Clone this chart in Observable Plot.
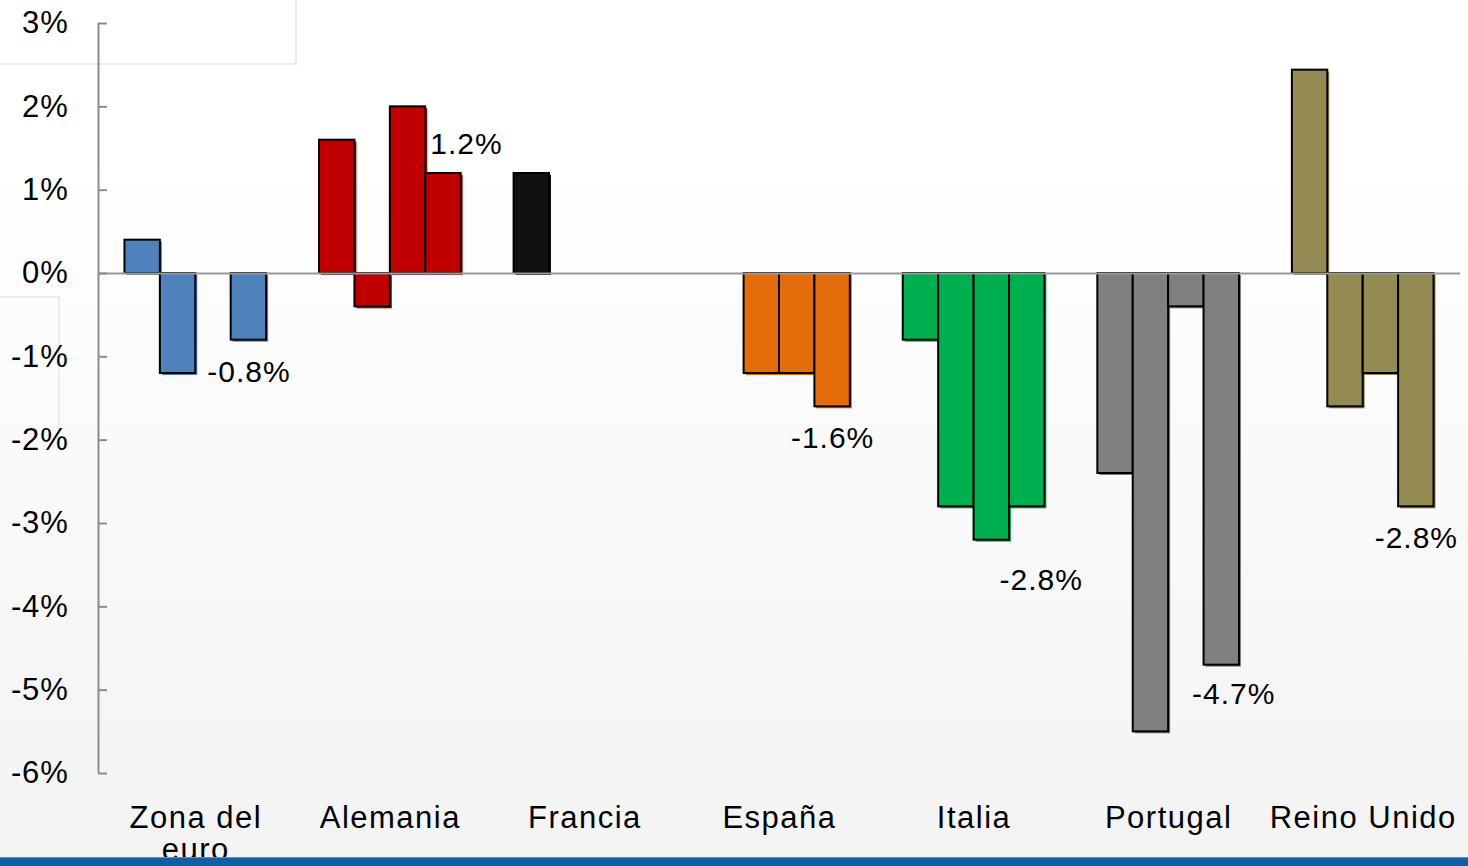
<!DOCTYPE html>
<html>
<head>
<meta charset="utf-8">
<script src="https://cdn.jsdelivr.net/npm/d3@7"></script>
<script src="https://cdn.jsdelivr.net/npm/@observablehq/plot@0.6"></script>
<style>
  html, body { margin: 0; padding: 0; }
  body {
    width: 1468px; height: 866px; overflow: hidden; position: relative;
    background: linear-gradient(to bottom, #ffffff 0%, #ffffff 18%, #f3f3f3 100%);
    font-family: "Liberation Sans", Arial, sans-serif;
  }
  #chart { position: absolute; left: 0; top: 0; }
  #chart g[aria-label="x-axis tick label"] text { letter-spacing: 1.5px; }
  #chart g[aria-label="y-axis tick label"] text { letter-spacing: 0.8px; }
  #chart g[aria-label="text"] text { letter-spacing: 1px; }
  .ghost1 { position: absolute; left: -2px; top: -2px; width: 295px; height: 63px; border: 2px solid #ececec; background: rgba(255,255,255,0.6); }
  .ghost2 { position: absolute; left: -2px; top: 296px; width: 58px; height: 132px; border: 2px solid #ececec; border-bottom: none; }
  .band { position: absolute; left: 0; top: 857px; width: 1468px; height: 9px; background: #125ea6; border-top: 1px solid #5f93c4; z-index: 5; }
</style>
</head>
<body>
<div class="ghost1"></div>
<div class="ghost2"></div>
<div id="chart"></div>
<div class="band"></div>
<script>
// ---- data ----
const countries = ["Zona del euro", "Alemania", "Francia", "España", "Italia", "Portugal", "Reino Unido"];
const axisLabels = ["Zona del\neuro", "Alemania", "Francia", "España", "Italia", "Portugal", "Reino Unido"];
const colors = ["#4F81BD", "#C00000", "#111111", "#E46C0A", "#00B050", "#808080", "#948A54"];
const bar1 = [0.4, 1.6, 1.2, null, -0.8, -2.4, 2.44];
const bar2 = [-1.2, -0.4, null, -1.2, -2.8, -5.5, -1.6];
const bar3 = [null, 2.0, null, -1.2, -3.2, -0.4, -1.2];
const bar4 = [-0.8, 1.2, null, -1.6, -2.8, -4.7, -2.8];
const labelTexts = ["-0.8%", "1.2%", null, "-1.6%", "-2.8%", "-4.7%", "-2.8%"];
const yTicks = [-6, -5, -4, -3, -2, -1, 0, 1, 2, 3];

// ---- presentation ----
const bw = 0.182;               // bar width in group units
const xDomain = [-0.5, 6.5];
const yDomain = [-6, 3];
const labelNudge = { "Alemania": [23, -29], "Italia": [14, 74], "Portugal": [12, 29] };

const series = [bar1, bar2, bar3, bar4];
const rows = [];
countries.forEach((c, ci) => {
  series.forEach((s, si) => {
    const v = s[ci];
    if (v != null) rows.push({ country: c, ci, si, value: v, x1: ci - 2 * bw + si * bw, x2: ci - 2 * bw + (si + 1) * bw });
  });
});
const labels = countries.map((c, ci) => ({ country: c, ci, text: labelTexts[ci], value: bar4[ci], x: ci + 1.5 * bw }))
  .filter(d => d.text != null);

const labelMarks = labels.map(d => {
  const n = labelNudge[d.country] || [0, d.value < 0 ? 32 : -29];
  return Plot.text([d], { x: "x", y: "value", text: "text", dx: n[0], dy: n[1], fontSize: 30, fill: "#000" });
});

const chart = Plot.plot({
  width: 1468,
  height: 866,
  marginTop: 23,
  marginBottom: 93,
  marginLeft: 98,
  marginRight: 8,
  style: { background: "transparent", fontFamily: "'Liberation Sans', Arial, sans-serif", color: "#000" },
  x: { type: "linear", domain: xDomain, axis: null, label: null },
  y: { domain: yDomain, axis: null, label: null },
  color: { domain: countries, range: colors },
  marks: [
    // shadow
    Plot.rect(rows, { x1: "x1", x2: "x2", y1: () => 0, y2: "value", fill: "country", dx: 2, dy: 2 }),
    // bars
    Plot.rect(rows, { x1: "x1", x2: "x2", y1: () => 0, y2: "value", fill: "country", stroke: "#000", strokeWidth: 2 }),
    // zero line
    Plot.ruleY([0], { stroke: "#999", strokeWidth: 2 }),
    // y axis line
    Plot.ruleX([xDomain[0]], { y1: yDomain[0], y2: yDomain[1], stroke: "#8c8c8c", strokeWidth: 2 }),
    // y ticks (inward)
    Plot.axisY(yTicks, { anchor: "left", tickSize: 9, dx: 9, text: null, label: null, stroke: "#8c8c8c", strokeWidth: 2 }),
    // y tick labels
    Plot.axisY(yTicks, { anchor: "left", tickSize: 0, tickPadding: 30, label: null, tickFormat: d => `${d}%`, fontSize: 31, fill: "#000" }),
    // x labels
    Plot.axisX(d3.range(countries.length), { anchor: "bottom", tickSize: 0, tickPadding: 31, label: null, tickFormat: i => axisLabels[i], fontSize: 31, lineHeight: 1.05, fill: "#000" }),
    ...labelMarks
  ]
});
document.getElementById("chart").appendChild(chart);
</script>
</body>
</html>
